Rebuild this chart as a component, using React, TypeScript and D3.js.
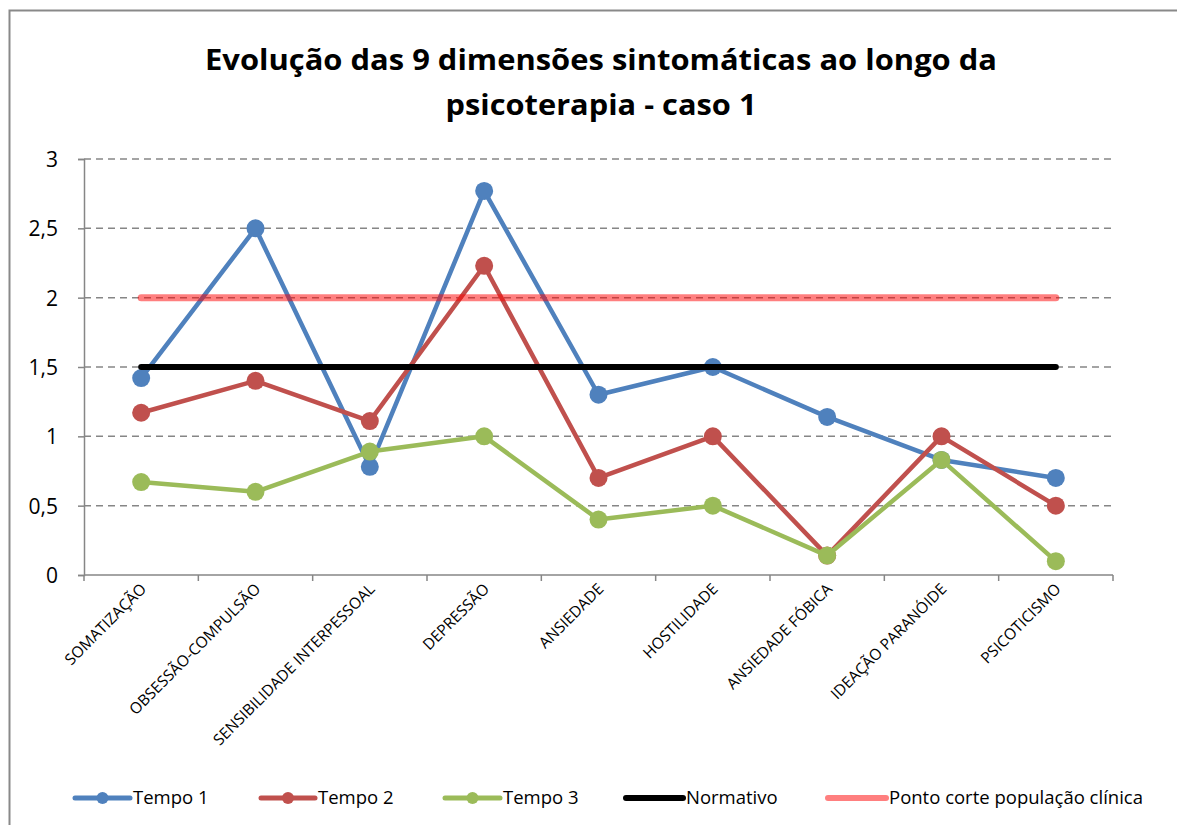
import * as d3 from 'd3';
import React, { useEffect, useRef } from 'react';

const categories = [
  'SOMATIZAÇÃO',
  'OBSESSÃO-COMPULSÃO',
  'SENSIBILIDADE INTERPESSOAL',
  'DEPRESSÃO',
  'ANSIEDADE',
  'HOSTILIDADE',
  'ANSIEDADE FÓBICA',
  'IDEAÇÃO PARANÓIDE',
  'PSICOTICISMO',
];

const tempo1 = [1.42, 2.5, 0.78, 2.77, 1.3, 1.5, 1.14, 0.83, 0.7];
const tempo2 = [1.17, 1.4, 1.11, 2.23, 0.7, 1.0, 0.14, 1.0, 0.5];
const tempo3 = [0.67, 0.6, 0.89, 1.0, 0.4, 0.5, 0.14, 0.83, 0.1];
const normativo = [1.5, 1.5, 1.5, 1.5, 1.5, 1.5, 1.5, 1.5, 1.5];
const pontoCorte = [2, 2, 2, 2, 2, 2, 2, 2, 2];

const yTicks = [0, 0.5, 1, 1.5, 2, 2.5, 3];

const series = [
  { name: 'Tempo 1', values: tempo1, color: '#4F81BD', width: 4.5, marker: true },
  { name: 'Tempo 2', values: tempo2, color: '#C0504D', width: 4.5, marker: true },
  { name: 'Tempo 3', values: tempo3, color: '#9BBB59', width: 4.5, marker: true },
  { name: 'Normativo', values: normativo, color: '#000000', width: 6, marker: false },
  { name: 'Ponto corte população clínica', values: pontoCorte, color: '#FF0000', width: 7, marker: false, opacity: 0.5 },
];

const legendPos = [
  { lx: 75, tx: 133 },
  { lx: 261, tx: 318 },
  { lx: 445, tx: 503 },
  { lx: 626, tx: 686 },
  { lx: 828, tx: 889 },
];

const W = 1177;
const H = 825;
const FONT = '"Open Sans", "DejaVu Sans", sans-serif';

function App() {
  const ref = useRef(null);

  useEffect(() => {
    const svg = d3.select(ref.current);
    svg.selectAll('*').remove();

    const left = 84, right = 1113, top = 159, bottom = 575;

    // outer frame
    svg.append('rect')
      .attr('x', 9.5).attr('y', 10.5)
      .attr('width', 1300).attr('height', 1000)
      .attr('fill', '#fff')
      .attr('stroke', '#898989')
      .attr('stroke-width', 2);

    // title
    const title = svg.append('text')
      .attr('text-anchor', 'middle')
      .attr('font-family', FONT)
      .attr('font-weight', 'bold')
      .attr('font-size', 29)
      .attr('fill', '#000');
    title.append('tspan').attr('x', 601).attr('y', 70)
      .attr('textLength', 792).attr('lengthAdjust', 'spacingAndGlyphs')
      .text('Evolução das 9 dimensões sintomáticas ao longo da');
    title.append('tspan').attr('x', 601).attr('y', 115)
      .attr('textLength', 311).attr('lengthAdjust', 'spacingAndGlyphs')
      .text('psicoterapia - caso 1');

    const x = d3.scaleBand().domain(categories).range([left, right]);
    const y = d3.scaleLinear().domain([0, 3]).range([bottom, top]);
    const fmt = (d) => String(d).replace('.', ',');

    // gridlines
    svg.append('g').selectAll('line')
      .data(yTicks.filter(d => d > 0))
      .enter().append('line')
      .attr('x1', left).attr('x2', right)
      .attr('y1', d => y(d)).attr('y2', d => y(d))
      .attr('stroke', '#868686')
      .attr('stroke-width', 1.5)
      .attr('stroke-dasharray', '7,5');

    // y axis
    const yAxis = svg.append('g')
      .attr('transform', `translate(${left},0)`)
      .call(d3.axisLeft(y).tickValues(yTicks).tickFormat(fmt).tickSize(6).tickPadding(8));
    yAxis.select('.domain').attr('stroke', '#868686').attr('stroke-width', 1.5);
    yAxis.selectAll('.tick line').attr('stroke', '#868686').attr('stroke-width', 1.5);
    yAxis.selectAll('.tick text')
      .attr('font-family', FONT).attr('font-size', 21).attr('fill', '#000')
      .attr('x', -26).attr('dy', '0.35em');

    // x axis
    const xAxis = svg.append('g')
      .attr('transform', `translate(0,${bottom})`);
    xAxis.append('line')
      .attr('x1', left).attr('x2', right)
      .attr('stroke', '#868686').attr('stroke-width', 1.5);
    xAxis.selectAll('.xt')
      .data(categories.concat(['__end']))
      .enter().append('line')
      .attr('x1', d => d === '__end' ? right : x(d))
      .attr('x2', d => d === '__end' ? right : x(d))
      .attr('y1', 0).attr('y2', 6)
      .attr('stroke', '#868686').attr('stroke-width', 1.5);
    xAxis.selectAll('.xl')
      .data(categories)
      .enter().append('text')
      .attr('transform', d => `translate(${x(d) + x.bandwidth() / 2 + 6},${15}) rotate(-45)`)
      .attr('text-anchor', 'end')
      .attr('font-family', FONT)
      .attr('font-size', 15.5)
      .attr('fill', '#000')
      .text(d => d);

    const cx = (i) => x(categories[i]) + x.bandwidth() / 2;
    const line = d3.line().x((d, i) => cx(i)).y(d => y(d));

    series.forEach(s => {
      svg.append('path')
        .datum(s.values)
        .attr('d', line)
        .attr('fill', 'none')
        .attr('stroke', s.color)
        .attr('stroke-width', s.width)
        .attr('stroke-linejoin', 'round')
        .attr('stroke-linecap', 'round')
        .attr('stroke-opacity', s.opacity || 1);
      if (s.marker) {
        svg.append('g').selectAll('circle')
          .data(s.values)
          .enter().append('circle')
          .attr('cx', (d, i) => cx(i))
          .attr('cy', d => y(d))
          .attr('r', 9)
          .attr('fill', s.color);
      }
    });

    // legend
    const ly = 798;
    series.forEach((s, i) => {
      const p = legendPos[i];
      const g = svg.append('g');
      g.append('line')
        .attr('x1', p.lx).attr('x2', p.tx - 3)
        .attr('y1', ly).attr('y2', ly)
        .attr('stroke', s.color)
        .attr('stroke-width', s.marker ? 5 : 6)
        .attr('stroke-linecap', 'round')
        .attr('stroke-opacity', s.opacity || 1);
      if (s.marker) {
        g.append('circle')
          .attr('cx', (p.lx + p.tx - 3) / 2).attr('cy', ly)
          .attr('r', 6).attr('fill', s.color);
      }
      g.append('text')
        .attr('x', p.tx).attr('y', ly).attr('dy', '0.35em')
        .attr('font-family', FONT).attr('font-size', 18.5)
        .attr('fill', '#000')
        .text(s.name);
    });
  }, []);

  return (
    <svg ref={ref} width={W} height={H}
      style={{ position: 'absolute', left: 0, top: 0, background: '#fff' }} />
  );
}

export default App;
